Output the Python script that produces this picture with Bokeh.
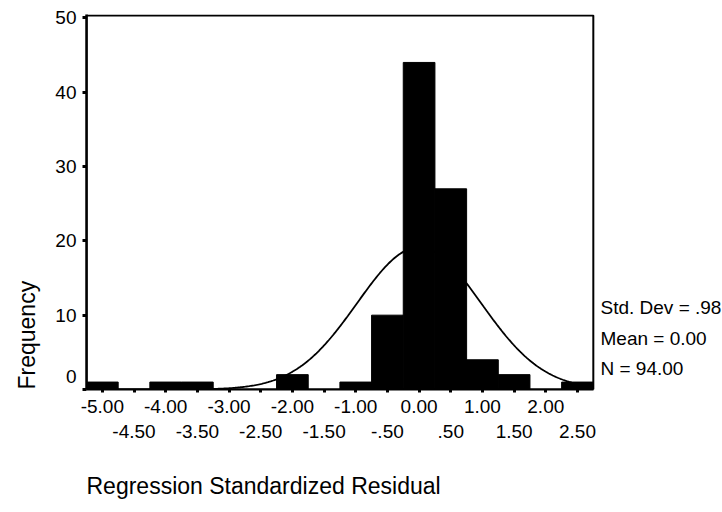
import numpy as np
from bokeh.plotting import figure
from bokeh.models import LinearAxis, FixedTicker, Label, Range1d, Title, BoxAnnotation
from bokeh.embed import file_html
from bokeh.resources import INLINE

# ---- data ----
bin_centers = [-5.0, -4.5, -4.0, -3.5, -3.0, -2.5, -2.0, -1.5, -1.0, -0.5,
               0.0, 0.5, 1.0, 1.5, 2.0, 2.5]
frequencies = [1, 0, 1, 1, 0, 0, 2, 0, 1, 10, 44, 27, 4, 2, 0, 1]
bin_width = 0.5

std_dev = 0.98
mean_value = 0.0
n_cases = 94

row1_ticks = [-5.0, -4.0, -3.0, -2.0, -1.0, 0.0, 1.0, 2.0]
row1_labels = ["-5.00", "-4.00", "-3.00", "-2.00", "-1.00", "0.00", "1.00", "2.00"]
row2_ticks = [-4.5, -3.5, -2.5, -1.5, -0.5, 0.5, 1.5, 2.5]
row2_labels = ["-4.50", "-3.50", "-2.50", "-1.50", "-.50", ".50", "1.50", "2.50"]
y_ticks = [0, 10, 20, 30, 40, 50]
y_labels = ["0\n ", "10", "20", "30", "40", "50"]

stats_lines = ["Std. Dev = .98", "Mean = 0.00", "N = 94.00"]
x_title = "Regression Standardized Residual"
y_title = "Frequency"

FONT = "Liberation Sans"
W, H = 722, 512
FL, FT, FH = 82, 14, 375            # frame left / top / height (frame runs to the right edge)
x_lo, x_hi = -5.25, 2.75            # histogram box extent
y_lo, y_hi = 0.0, 50.45
box_top = 50.3
px_per_unit = 510 / (x_hi - x_lo)
x_end = x_lo + (W - FL) / px_per_unit

p = figure(width=W, height=H, output_backend="svg", toolbar_location=None,
           x_range=Range1d(x_lo, x_end), y_range=Range1d(y_lo, y_hi),
           min_border_left=FL, min_border_right=0, min_border_top=FT,
           min_border_bottom=H - FT - FH)
p.xgrid.visible = False
p.ygrid.visible = False
p.outline_line_color = None
p.background_fill_color = "white"
p.border_fill_color = "white"

# normal curve from the stated statistics (drawn behind the bars)
xs = np.linspace(x_lo, x_hi, 400)
ys = n_cases * bin_width * np.exp(-0.5 * ((xs - mean_value) / std_dev) ** 2) / (std_dev * np.sqrt(2 * np.pi))
p.line(xs, ys, line_color="black", line_width=1.8)

p.vbar(x=bin_centers, top=frequencies, width=bin_width, bottom=0,
       fill_color="black", line_color="black", line_width=1)

# box around the histogram
p.add_layout(BoxAnnotation(left=x_lo, right=x_hi, bottom=y_lo, top=box_top,
                           fill_color=None, fill_alpha=0, line_color="black",
                           line_alpha=1.0, line_width=2))

# y axis
ya = p.yaxis[0]
ya.ticker = FixedTicker(ticks=y_ticks)
ya.major_label_overrides = {t: l for t, l in zip(y_ticks, y_labels)}
ya.minor_tick_line_color = None
ya.major_tick_in = 0
ya.major_tick_out = 4
ya.major_tick_line_width = 3
ya.axis_line_width = 2.5
ya.major_label_standoff = 6
ya.major_label_text_font = FONT
ya.major_label_text_font_size = "19px"
ya.major_label_text_color = "black"

# x axis, row 1 (integer labels) with all tick marks
xa = p.xaxis[0]
all_ticks = sorted(row1_ticks + row2_ticks)
xa.ticker = FixedTicker(ticks=all_ticks)
overrides = {t: "" for t in row2_ticks}
overrides.update({t: l for t, l in zip(row1_ticks, row1_labels)})
xa.major_label_overrides = overrides
xa.bounds = (x_lo, x_hi)
xa.minor_tick_line_color = None
xa.major_tick_in = 0
xa.major_tick_out = 3
xa.major_tick_line_width = 3
xa.axis_line_width = 2
xa.major_label_standoff = 7
xa.major_label_text_font = FONT
xa.major_label_text_font_size = "19px"
xa.major_label_text_color = "black"

# x axis, row 2 (half labels)
xa2 = LinearAxis(ticker=FixedTicker(ticks=row2_ticks),
                 major_label_overrides={t: l for t, l in zip(row2_ticks, row2_labels)})
xa2.axis_line_color = None
xa2.major_tick_line_color = None
xa2.minor_tick_line_color = None
xa2.major_tick_out = 0
xa2.major_tick_in = 0
xa2.major_label_standoff = 9
xa2.major_label_text_font = FONT
xa2.major_label_text_font_size = "19px"
xa2.major_label_text_color = "black"
p.add_layout(xa2, "below")

# statistics text on the right (screen units relative to the frame's bottom-left)
for i, s in enumerate(stats_lines):
    p.add_layout(Label(x=514, y=82 - 30.5 * i, x_units="screen", y_units="screen",
                       text=s, text_font=FONT, text_font_size="19px",
                       text_baseline="middle", text_align="left", text_color="black"))

# axis titles (a leading blank line pushes the x title further below the tick labels)
p.add_layout(Title(text=" \n" + x_title, align="left", offset=0, standoff=8,
                   text_font=FONT, text_font_size="23px",
                   text_font_style="normal", text_color="black"), "below")
p.add_layout(Title(text=y_title, align="left", offset=0, standoff=24,
                   vertical_align="middle", text_font=FONT, text_font_size="23px",
                   text_font_style="normal", text_color="black"), "left")

open("out.html", "w").write(file_html(p, INLINE))
